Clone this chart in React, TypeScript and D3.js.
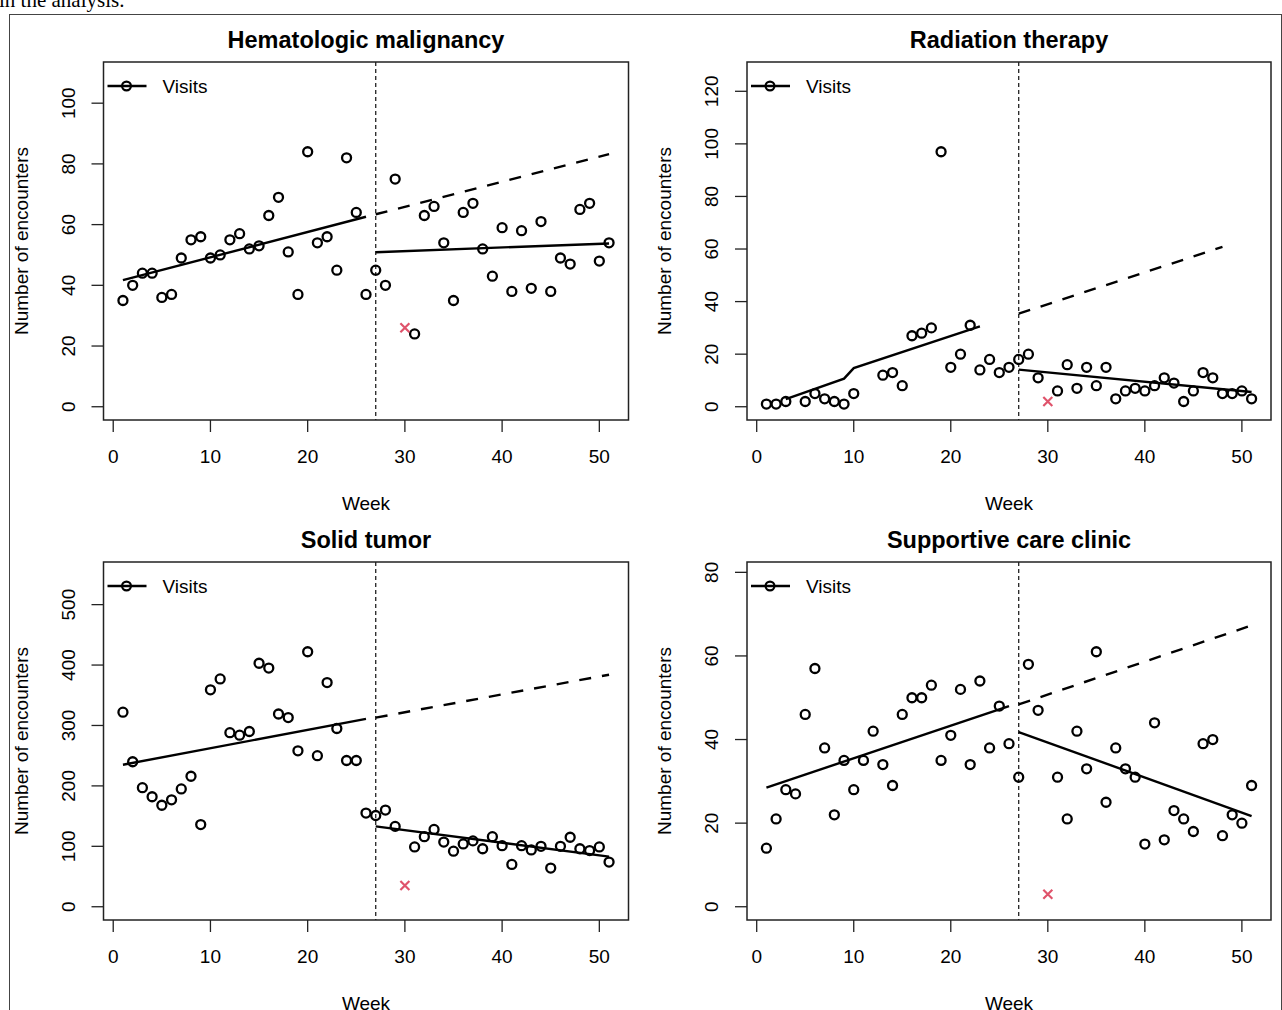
import { useEffect, useRef } from "react";
import * as d3 from "d3";

// weekly encounter counts, weeks 1..51 (week 30 excluded from the analysis)
const hemVisits = [35, 40, 44, 44, 36, 37, 49, 55, 56, 49, 50, 55, 57, 52, 53, 63, 69, 51, 37, 84, 54, 56, 45, 82, 64, 37,
    45, 40, 75, null, 24, 63, 66, 54, 35, 64, 67, 52, 43, 59, 38, 58, 39, 61, 38, 49, 47, 65, 67, 48, 54];
const radVisits = [1, 1, 2, null, 2, 5, 3, 2, 1, 5, null, null, 12, 13, 8, 27, 28, 30, 97, 15, 20, 31, 14, 18, 13, 15,
    18, 20, 11, null, 6, 16, 7, 15, 8, 15, 3, 6, 7, 6, 8, 11, 9, 2, 6, 13, 11, 5, 5, 6, 3];
const solVisits = [322, 240, 197, 182, 168, 177, 195, 216, 136, 359, 377, 288, 284, 290, 403, 395, 319, 313, 258, 422, 250,
    371, 295, 242, 242, 155, 151, 160, 133, null, 99, 116, 128, 107, 92, 104, 109, 96, 116, 101, 70, 101, 94, 100, 64, 100,
    115, 96, 93, 99, 74];
const supVisits = [14, 21, 28, 27, 46, 57, 38, 22, 35, 28, 35, 42, 34, 29, 46, 50, 50, 53, 35, 41, 52, 34, 54, 38, 48, 39,
    31, 58, 47, null, 31, 21, 42, 33, 61, 25, 38, 33, 31, 15, 44, 16, 23, 21, 18, 39, 40, 17, 22, 20, 29];

// excluded week (red x)
const excludedWeek = 30;
const excludedValues = [26, 2, 35, 3];

// fitted segments [week, value]
const hemPre = [[1, 41.7], [26, 62.6]];
const hemCounterfactual = [[27, 63.4], [51, 83.2]];
const hemPost = [[27, 50.9], [51, 53.8]];
const radPre = [[3, 2.9], [9, 10.7], [10, 14.7], [23, 30.6]];
const radCounterfactual = [[27, 35.4], [48, 60.8]];
const radPost = [[27, 14.1], [51, 5.6]];
const solPre = [[1, 235], [26, 311]];
const solCounterfactual = [[27, 313], [51, 384]];
const solPost = [[27, 133], [51, 83]];
const supPre = [[1, 28.5], [26, 48]];
const supCounterfactual = [[27, 48.4], [51, 67.3]];
const supPost = [[27, 41.8], [51, 21.7]];

const titles = ["Hematologic malignancy", "Radiation therapy", "Solid tumor", "Supportive care clinic"];
const xTicks = [0, 10, 20, 30, 40, 50];
const yTicksList = [
    [0, 20, 40, 60, 80, 100],
    [0, 20, 40, 60, 80, 100, 120],
    [0, 100, 200, 300, 400, 500],
    [0, 20, 40, 60, 80],
];
const interventionWeek = 27;

const FONT = "'Liberation Sans', Arial, Helvetica, sans-serif";
const RED = "#DF536B";

export default function App() {
    const ref = useRef<SVGSVGElement>(null);

    useEffect(() => {
        const svg = d3.select(ref.current);
        svg.selectAll("*").remove();

        // bit of the caption above, cut off by the page
        svg.append("text")
            .attr("x", -1)
            .attr("y", 7)
            .attr("font-family", "'Liberation Serif', 'Times New Roman', serif")
            .attr("font-size", 21)
            .text("in the analysis.");

        // figure frame
        svg.append("rect")
            .attr("x", 9.5).attr("y", 14.5)
            .attr("width", 1272).attr("height", 1010)
            .attr("fill", "none").attr("stroke", "#444").attr("stroke-width", 1);

        const panels = [
            {visits: hemVisits, pre: hemPre, cf: hemCounterfactual, post: hemPost, left: 103.5, right: 628.5, top: 62, bottom: 420},
            {visits: radVisits, pre: radPre, cf: radCounterfactual, post: radPost, left: 747, right: 1271, top: 62, bottom: 420},
            {visits: solVisits, pre: solPre, cf: solCounterfactual, post: solPost, left: 103.5, right: 628.5, top: 562, bottom: 920},
            {visits: supVisits, pre: supPre, cf: supCounterfactual, post: supPost, left: 747, right: 1271, top: 562, bottom: 920},
        ];

        panels.forEach((p, i) => {
            const g = svg.append("g").attr("font-family", FONT);
            const yMax = (d3.max(p.visits, (d) => d ?? 0) as number) * 1.3;
            const x = d3.scaleLinear().domain([-1, 53]).range([p.left, p.right]);
            const y = d3.scaleLinear().domain([-0.04 * yMax, 1.04 * yMax]).range([p.bottom, p.top]);

            // title
            g.append("text")
                .attr("x", (p.left + p.right) / 2)
                .attr("y", p.top - 14)
                .attr("text-anchor", "middle")
                .attr("font-weight", "bold")
                .attr("font-size", 23.5)
                .text(titles[i]);

            // x axis
            xTicks.forEach((t) => {
                g.append("line")
                    .attr("x1", x(t)).attr("x2", x(t))
                    .attr("y1", p.bottom).attr("y2", p.bottom + 12)
                    .attr("stroke", "#222").attr("stroke-width", 1.3);
                g.append("text")
                    .attr("x", x(t)).attr("y", p.bottom + 43)
                    .attr("text-anchor", "middle").attr("font-size", 19)
                    .text(t);
            });
            g.append("text")
                .attr("x", (p.left + p.right) / 2).attr("y", p.bottom + 90)
                .attr("text-anchor", "middle").attr("font-size", 19)
                .text("Week");

            // y axis
            yTicksList[i].forEach((t) => {
                g.append("line")
                    .attr("x1", p.left - 12).attr("x2", p.left)
                    .attr("y1", y(t)).attr("y2", y(t))
                    .attr("stroke", "#222").attr("stroke-width", 1.3);
                g.append("text")
                    .attr("transform", `translate(${p.left - 29},${y(t)}) rotate(-90)`)
                    .attr("text-anchor", "middle").attr("font-size", 19)
                    .text(t);
            });
            g.append("text")
                .attr("transform", `translate(${p.left - 76},${(p.top + p.bottom) / 2}) rotate(-90)`)
                .attr("text-anchor", "middle").attr("font-size", 19)
                .text("Number of encounters");

            // plot box
            g.append("rect")
                .attr("x", p.left).attr("y", p.top)
                .attr("width", p.right - p.left).attr("height", p.bottom - p.top)
                .attr("fill", "none").attr("stroke", "#222").attr("stroke-width", 1.5);

            // intervention line
            g.append("line")
                .attr("x1", x(interventionWeek)).attr("x2", x(interventionWeek))
                .attr("y1", p.top).attr("y2", p.bottom)
                .attr("stroke", "#222").attr("stroke-width", 1.3)
                .attr("stroke-dasharray", "4 3");

            const line = d3.line<number[]>().x((d) => x(d[0])).y((d) => y(d[1]));

            g.append("path").attr("d", line(p.pre)).attr("fill", "none")
                .attr("stroke", "#000").attr("stroke-width", 2.4);
            g.append("path").attr("d", line(p.post)).attr("fill", "none")
                .attr("stroke", "#000").attr("stroke-width", 2.4);
            g.append("path").attr("d", line(p.cf)).attr("fill", "none")
                .attr("stroke", "#000").attr("stroke-width", 2.4)
                .attr("stroke-dasharray", "12 11");

            // points
            g.selectAll("circle.pt")
                .data(p.visits.map((v, k) => ({week: k + 1, v})).filter((d) => d.v !== null))
                .enter()
                .append("circle")
                .attr("class", "pt")
                .attr("cx", (d) => x(d.week))
                .attr("cy", (d) => y(d.v as number))
                .attr("r", 4.5)
                .attr("fill", "none")
                .attr("stroke", "#000")
                .attr("stroke-width", 2.3);

            // excluded week
            const ex = x(excludedWeek), ey = y(excludedValues[i]), s = 4.5;
            g.append("path")
                .attr("d", `M${ex - s},${ey - s}L${ex + s},${ey + s}M${ex - s},${ey + s}L${ex + s},${ey - s}`)
                .attr("stroke", RED).attr("stroke-width", 2.2);

            // legend
            const ly = p.top + 24;
            g.append("line")
                .attr("x1", p.left + 4).attr("x2", p.left + 43)
                .attr("y1", ly).attr("y2", ly)
                .attr("stroke", "#000").attr("stroke-width", 2.4);
            g.append("circle")
                .attr("cx", p.left + 23).attr("cy", ly).attr("r", 4.4)
                .attr("fill", "none").attr("stroke", "#000").attr("stroke-width", 2.2);
            g.append("text")
                .attr("x", p.left + 59).attr("y", ly + 7)
                .attr("font-size", 19)
                .text("Visits");
        });
    }, []);

    return <svg ref={ref} width={1282} height={1010}
                style={{position: "absolute", left: 0, top: 0, background: "#fff"}}></svg>;
}
